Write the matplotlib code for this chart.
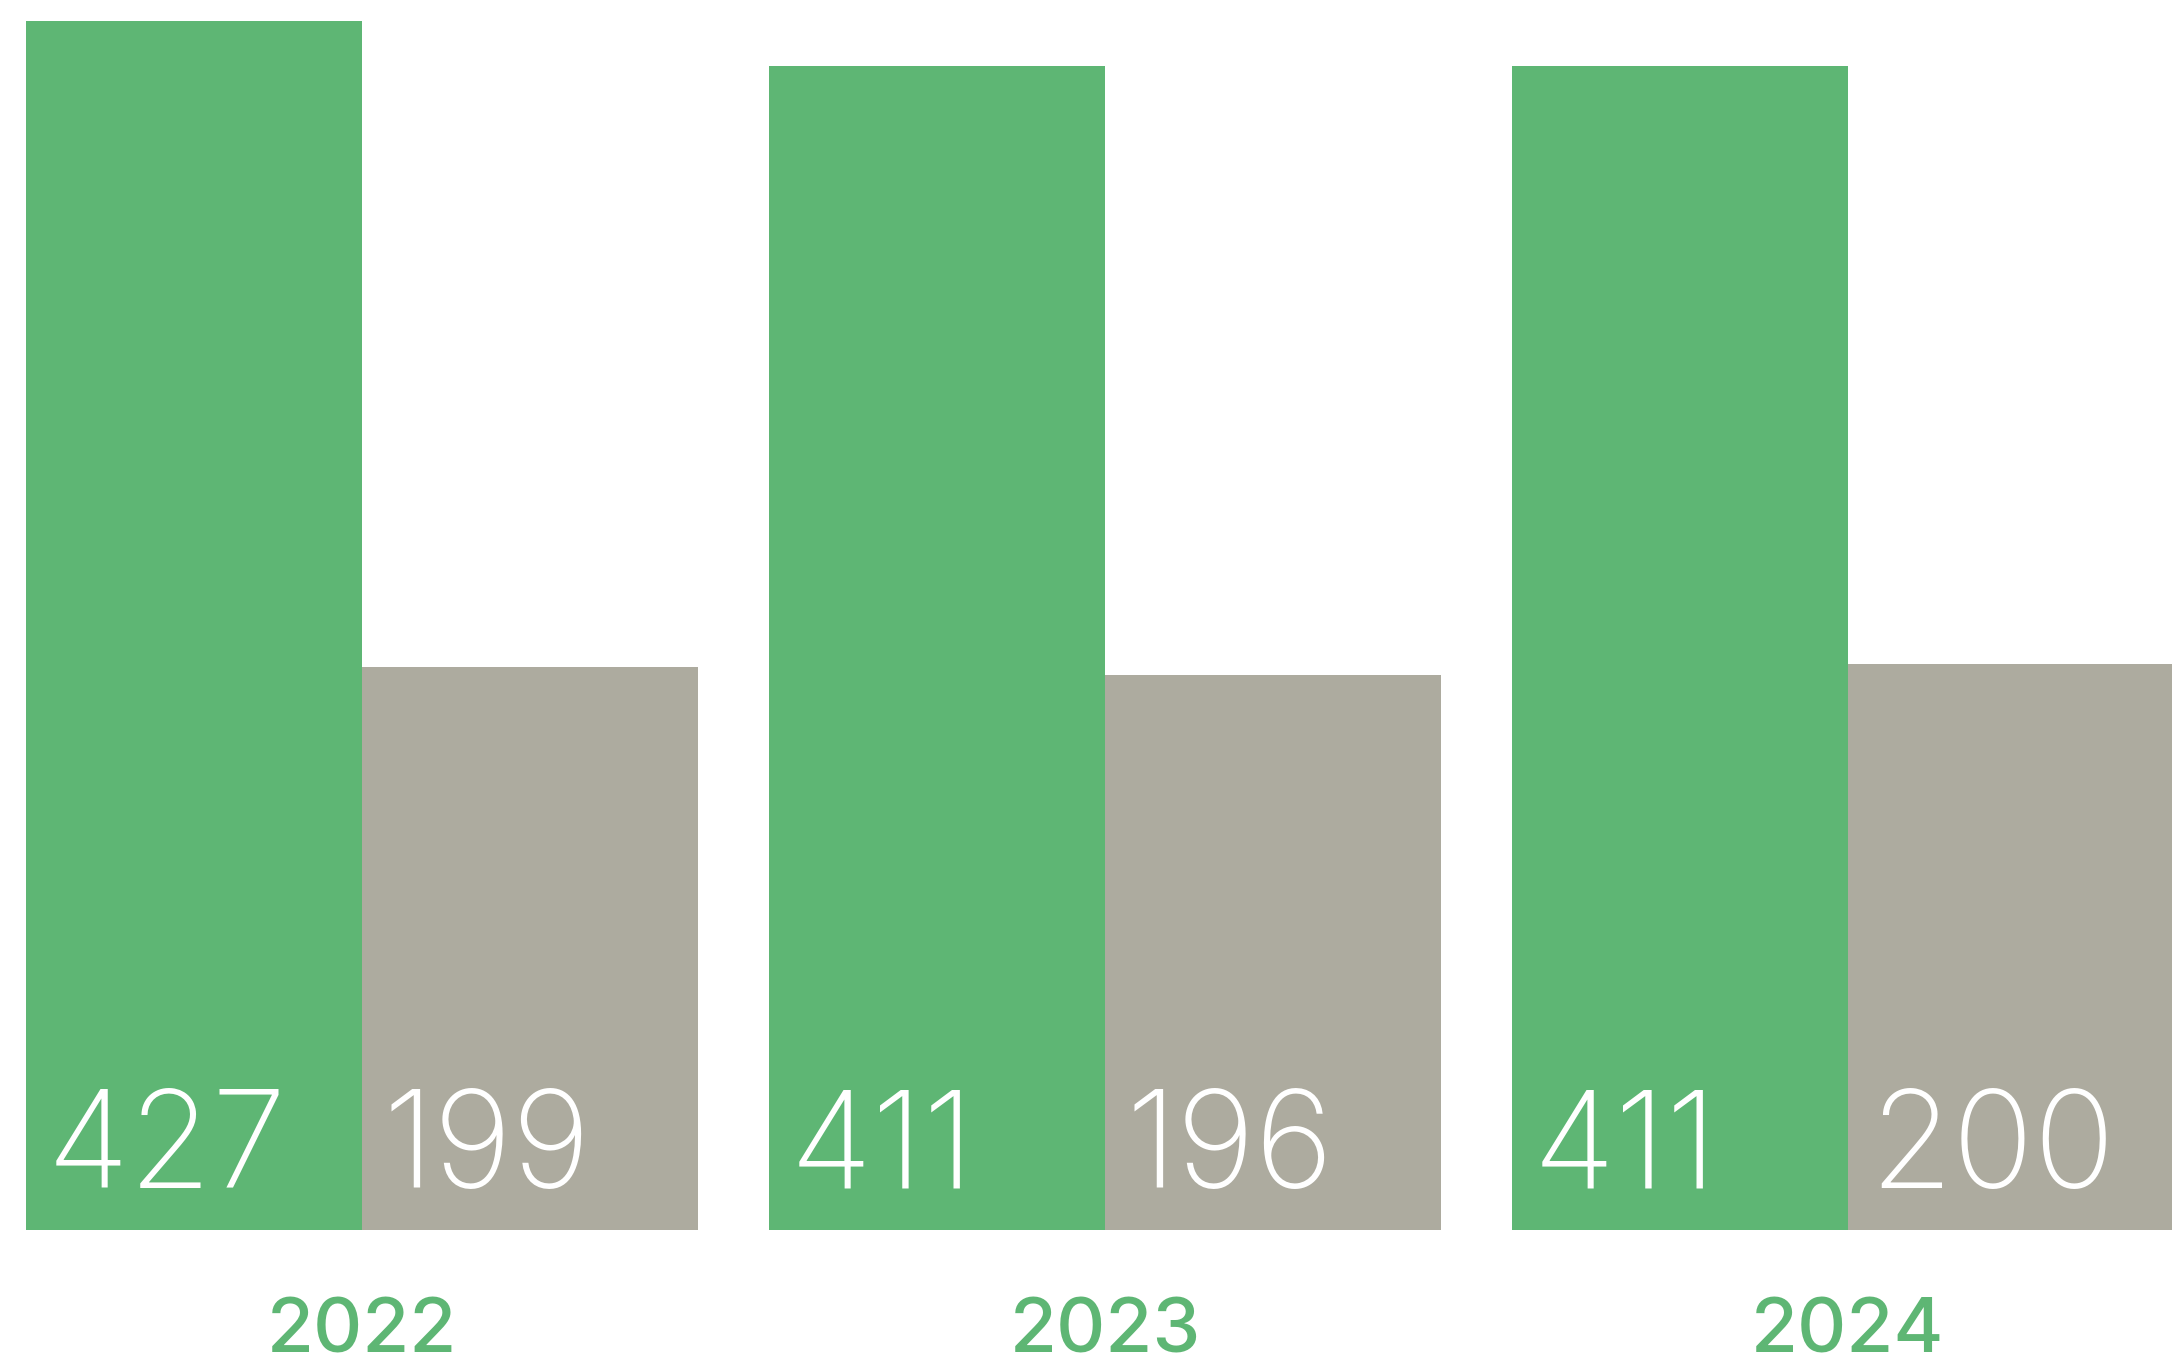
import matplotlib
matplotlib.use("Agg")
import matplotlib.pyplot as plt

# Yearly counts: first series (green) and second series (grey)
years = ["2022", "2023", "2024"]
primary = [427, 411, 411]
secondary = [199, 196, 200]

GREEN = "#5EB674"
GREY = "#ADAB9F"

W_PX, H_PX, DPI = 2172, 1360, 100
fig = plt.figure(figsize=(W_PX / DPI, H_PX / DPI), dpi=DPI)

# Axes fills the figure width; bottom sits above the year labels
base_px = 1230
ax = fig.add_axes([0, (H_PX - base_px) / H_PX, 1, base_px / H_PX])

group_px = 743.0
bar_px = 336.0
first_center_px = 362.0
w = bar_px / group_px
ax.set_xlim(-first_center_px / group_px, (W_PX - first_center_px) / group_px)
ax.set_ylim(0, 427 * base_px / 1209)

xs = list(range(len(years)))
green_bars = ax.bar([x - w / 2 for x in xs], primary, width=w, color=GREEN, linewidth=0)
grey_bars = ax.bar([x + w / 2 for x in xs], secondary, width=w, color=GREY, linewidth=0)

label_font = dict(family=["Inter", "DejaVu Sans"], weight="light", size=97, color="white")
for bars, vals in ((green_bars, primary), (grey_bars, secondary)):
    for rect, v in zip(bars, vals):
        ax.annotate(str(v), xy=(rect.get_x(), 0), xytext=(15, 30),
                    textcoords="offset points", ha="left", va="baseline",
                    **label_font)

for x, yr in zip(xs, years):
    ax.annotate(yr, xy=(x, 0), xytext=(0, -88.5), textcoords="offset points",
                ha="center", va="baseline", annotation_clip=False,
                family=["Inter", "DejaVu Sans"], weight="medium", size=55,
                color=GREEN)

ax.axis("off")
fig.savefig("out.png", dpi=DPI, facecolor="white")
